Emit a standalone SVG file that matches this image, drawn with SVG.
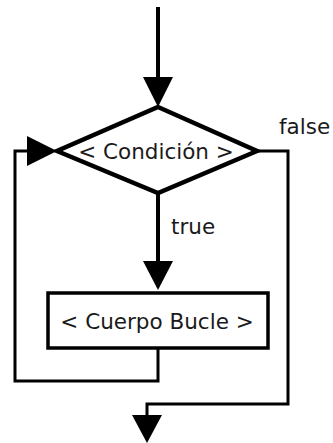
<svg xmlns="http://www.w3.org/2000/svg" width="333" height="443" viewBox="0 0 333 443">
<style>
.ln{fill:none;stroke:#000;stroke-linejoin:miter;stroke-linecap:square}
.ah{fill:#000;stroke:none}
.shape{fill:#fff;stroke:#000}
text{font-family:"DejaVu Sans",Verdana,sans-serif;font-size:21.5px;fill:#1a1a1a}
</style>
<rect width="333" height="443" fill="#fff"/>
<g id="connectors">
<path class="ln" d="M158 9 V80" stroke-width="4"/>
<polygon class="ah" points="143,77 173,77 158,107"/>
<path class="ln" d="M158 193 V264" stroke-width="4"/>
<polygon class="ah" points="143,261 173,261 158,290"/>
<path class="ln" d="M158 348 V381 H15 V151 H30" stroke-width="3"/>
<polygon class="ah" points="27,136 27,166 57,151"/>
<path class="ln" d="M257 151 H288 V404 H147 V418" stroke-width="3"/>
<polygon class="ah" points="132,415 162,415 147,443"/>
<text x="279" y="134">false</text>
<text x="171" y="234">true</text>
</g>
<g id="cond">
<polygon class="shape" points="158,107 257,151 158,193 57,151" stroke-width="4.5"/>
<text x="156" y="159" text-anchor="middle">&lt; Condición &gt;</text>
</g>
<g id="body">
<rect class="shape" x="48" y="293" width="220" height="55" stroke-width="3.5"/>
<text x="157" y="329" text-anchor="middle">&lt; Cuerpo Bucle &gt;</text>
</g>
</svg>
